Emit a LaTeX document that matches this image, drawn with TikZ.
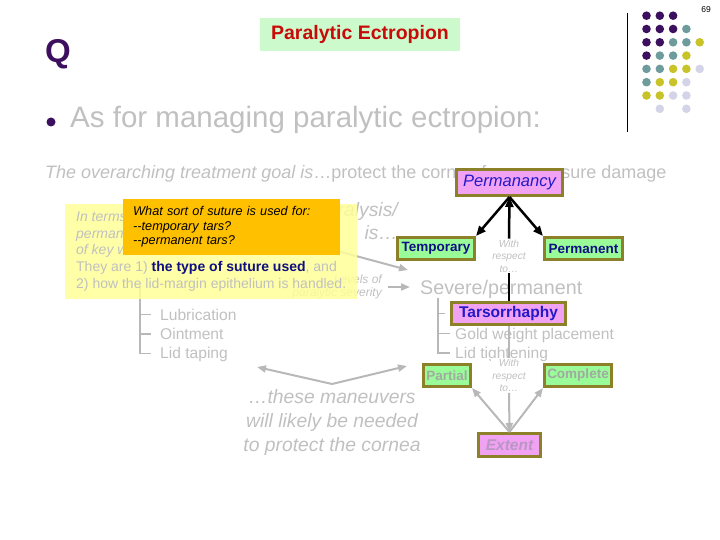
\documentclass[tikz,border=0pt]{standalone}
\usepackage{fontspec}
\setmainfont{Liberation Sans}
\usepackage{xcolor}
\usepackage{tikz}
\usetikzlibrary{arrows.meta, positioning}
\definecolor{slidegray}{RGB}{192,192,192}
\definecolor{conngray}{RGB}{184,184,184}
\definecolor{dotpurple}{RGB}{60,15,95}
\definecolor{dotteal}{RGB}{110,155,155}
\definecolor{dotyellow}{RGB}{200,195,40}
\definecolor{dotlav}{RGB}{212,212,232}
\definecolor{boxolive}{RGB}{140,128,40}
\definecolor{boxpink}{RGB}{242,162,242}
\definecolor{boxgreen}{RGB}{153,252,153}
\definecolor{titlegreen}{RGB}{204,250,204}
\definecolor{titlered}{RGB}{200,10,10}
\definecolor{navytext}{RGB}{15,15,130}
\definecolor{bluetext}{RGB}{35,25,200}
\definecolor{fadedtext}{RGB}{160,170,160}
\definecolor{mauvetext}{RGB}{185,150,195}
\definecolor{noteyellow}{RGB}{255,255,153}
\definecolor{noteorange}{RGB}{255,192,0}

\begin{document}
\begin{tikzpicture}[
  x=1pt, y=-1pt,
  graytxt/.style   = {text=slidegray, inner sep=0pt},
  treeitem/.style  = {graytxt, text height=11pt, text depth=0pt, font=\fontsize{15.6}{17}\selectfont},
  keybox/.style    = {rectangle, draw=boxolive, line width=3pt, inner sep=1pt, align=center},
  pinkbox/.style   = {keybox, fill=boxpink},
  greenbox/.style  = {keybox, fill=boxgreen, minimum height=22pt, font=\fontsize{13.5}{15}\selectfont\bfseries},
  wrtnode/.style   = {fill=white, align=center, inner sep=1pt, text=slidegray,
                      font=\fontsize{10.2}{12.5}\selectfont\itshape},
  notebox/.style   = {anchor=north west, align=left},
  treeline/.style  = {draw=conngray, line width=1.2pt},
  blackline/.style = {draw=black, line width=2.5pt},
  blackarr/.style  = {blackline, -{Triangle[length=10pt, width=8pt]}},
  grayline/.style  = {draw=conngray, line width=2pt},
  grayarr/.style   = {grayline, -{Triangle[length=9pt, width=7pt]}},
]
\useasboundingbox (0,0) rectangle (720,540);

%% --- Slide furniture ---
\node[anchor=base west, inner sep=0pt, text=dotpurple, font=\fontsize{33}{33}\selectfont\bfseries] (qmark) at (45,63) {Q};
\node[fill=titlegreen, minimum width=200pt, minimum height=33pt, text=titlered,
      font=\fontsize{19.5}{20}\selectfont\bfseries] (title) at (360,34.5) {Paralytic Ectropion};
\node[inner sep=0pt, font=\fontsize{8.5}{9}\selectfont] (pagenum) at (706,10) {69};
\draw[line width=1pt] (627,13) -- (627,132);
\foreach \r/\row in {0/{dotpurple,dotpurple,dotpurple},
                     1/{dotpurple,dotpurple,dotpurple,dotteal},
                     2/{dotpurple,dotpurple,dotteal,dotteal,dotyellow},
                     3/{dotpurple,dotteal,dotteal,dotyellow},
                     4/{dotteal,dotteal,dotyellow,dotyellow,dotlav},
                     5/{dotteal,dotyellow,dotyellow,dotlav},
                     6/{dotyellow,dotyellow,dotlav,dotlav},
                     7/{none,dotlav,none,dotlav}}
  \foreach \c [count=\k from 0] in \row
    \fill[fill=\c] (646.5+13.3*\k, 15.7+13.3*\r) circle (4.3);

%% --- Bullet + goal ---
\node[circle, fill=dotpurple, minimum size=9pt, inner sep=0pt] (bullet) at (51,122) {};
\node[graytxt, anchor=base west, font=\fontsize{29.5}{31}\selectfont] (managing) at (70,128) {As for managing paralytic ectropion:};
\node[graytxt, anchor=base west, font=\fontsize{18}{20}\selectfont] (goal) at (45,178.5)
  {\textit{The overarching treatment goal is}…protect the cornea from exposure damage};

%% --- Text behind the notes ---
\node[graytxt, anchor=base east, font=\fontsize{19.3}{23}\selectfont\itshape] (para1) at (398,217) {paralysis/};
\node[graytxt, anchor=base east, font=\fontsize{19.3}{23}\selectfont\itshape] (para2) at (398,240) {is…};
\node[graytxt, align=right, anchor=east, font=\fontsize{12}{13.5}\selectfont\itshape] (levels) at (382,287) {Levels of\\paralytic severity};
\coordinate (mildfrom) at (330,249);
\coordinate (mildto) at (408,270);
\draw[grayarr] (mildfrom) -- (mildto);
\coordinate (lefttop) at (140,285);
\node[treeitem, anchor=base west] (lub) at (160,320) {Lubrication};
\node[treeitem, below=8pt of lub.south west, anchor=north west] (oint) {Ointment};
\node[treeitem, below=8pt of oint.south west, anchor=north west] (lidtape) {Lid taping};
\foreach \n in {lub,oint,lidtape}
  \draw[treeline] (lefttop) |- ([xshift=-9pt]\n.west);

%% --- Notes on top ---
\node[notebox, fill=noteyellow, fill opacity=0.85, text opacity=1, minimum width=292pt,
      inner xsep=0pt, inner ysep=7.5pt, text=slidegray, font=\fontsize{14}{16.8}\selectfont] (sutnote) at (65,204)
  {\textit{In terms}\\\textit{perman}\\\textit{of key w}\\They are 1) \textcolor{navytext}{\textbf{the type of suture used}}, and\\2) how the lid-margin epithelium is handled.};
\node[notebox, fill=noteorange, text width=197pt, inner xsep=10pt, inner ysep=7.5pt,
      font=\fontsize{12.7}{14.5}\selectfont\itshape] (sutq) at (123,199)
  {What sort of suture is used for:\\-{}-temporary tars?\\-{}-permanent tars?};

%% --- Permanancy ---
\node[pinkbox, minimum width=106pt, minimum height=26pt, text=bluetext,
      font=\fontsize{16.5}{18}\selectfont\itshape] (permancy) at (509.5,182.5) {Permanancy};
\node[greenbox, minimum width=77pt, text=navytext] (temp) at (436,248.5) {Temporary};
\node[greenbox, minimum width=78pt, text=navytext] (perm) at (583.5,248.5) {Permanent};
\node[wrtnode] (wrt1) at (509,256) {With\\respect\\to…};
\node[graytxt, anchor=base west, font=\fontsize{19.7}{22}\selectfont] (severe) at (420,294) {Severe/permanent};
\draw[grayarr] ([xshift=6pt]levels.east) -- ++(22,0);

%% --- Severe tree ---
\coordinate (righttop) at (438,298);
\node[treeitem, anchor=base west] (gold) at (455,339) {Gold weight placement};
\node[treeitem, below=8pt of gold.south west, anchor=north west] (lidtight) {Lid tightening};
\node[pinkbox, minimum width=114pt, minimum height=22pt, text=bluetext,
      font=\fontsize{15.5}{17}\selectfont\bfseries] (tars) at (508.5,313.5) {Tarsorrhaphy};
\foreach \n in {tars,gold,lidtight}
  \draw[treeline] (righttop) |- ([xshift=-5pt]\n.west);

%% --- Extent ---
\node[greenbox, minimum width=47pt, text=fadedtext] (partial) at (447,375.5) {Partial};
\node[greenbox, minimum width=67pt, text=fadedtext] (complete) at (578,375.5) {Complete};
\node[pinkbox, minimum width=62pt, minimum height=23pt, text=mauvetext,
      font=\fontsize{15.5}{17}\selectfont\bfseries\itshape] (extent) at (509.5,445) {Extent};
\node[wrtnode] (wrt2) at (509,375.5) {With\\respect\\to…};

%% --- Arrows ---
\draw[grayline] (tars.south -| wrt2.north) -- (wrt2.north);
\draw[grayarr] (wrt2.south) -- (extent.north);
\draw[grayarr] (extent.north) -- (partial.south east);
\draw[grayarr] (extent.north) -- (complete.south west);
\draw[blackline] (tars.north -| wrt1.south) -- (wrt1.south);
\draw[blackarr] (wrt1.north) -- (permancy.south);
\draw[blackarr] (permancy.south) -- (temp.north east);
\draw[blackarr] (permancy.south) -- (perm.north west);

%% --- Maneuvers ---
\node[graytxt, align=center, font=\fontsize{19.3}{24}\selectfont\itshape] (manv) at (332,423)
  {…these maneuvers\\will likely be needed\\to protect the cornea};
\coordinate (vtip) at (332,384);
\coordinate (vleft) at (257,367);
\coordinate (vright) at (407,366);
\draw[grayarr] (vtip) -- (vleft);
\draw[grayarr] (vtip) -- (vright);

\end{tikzpicture}
\end{document}
